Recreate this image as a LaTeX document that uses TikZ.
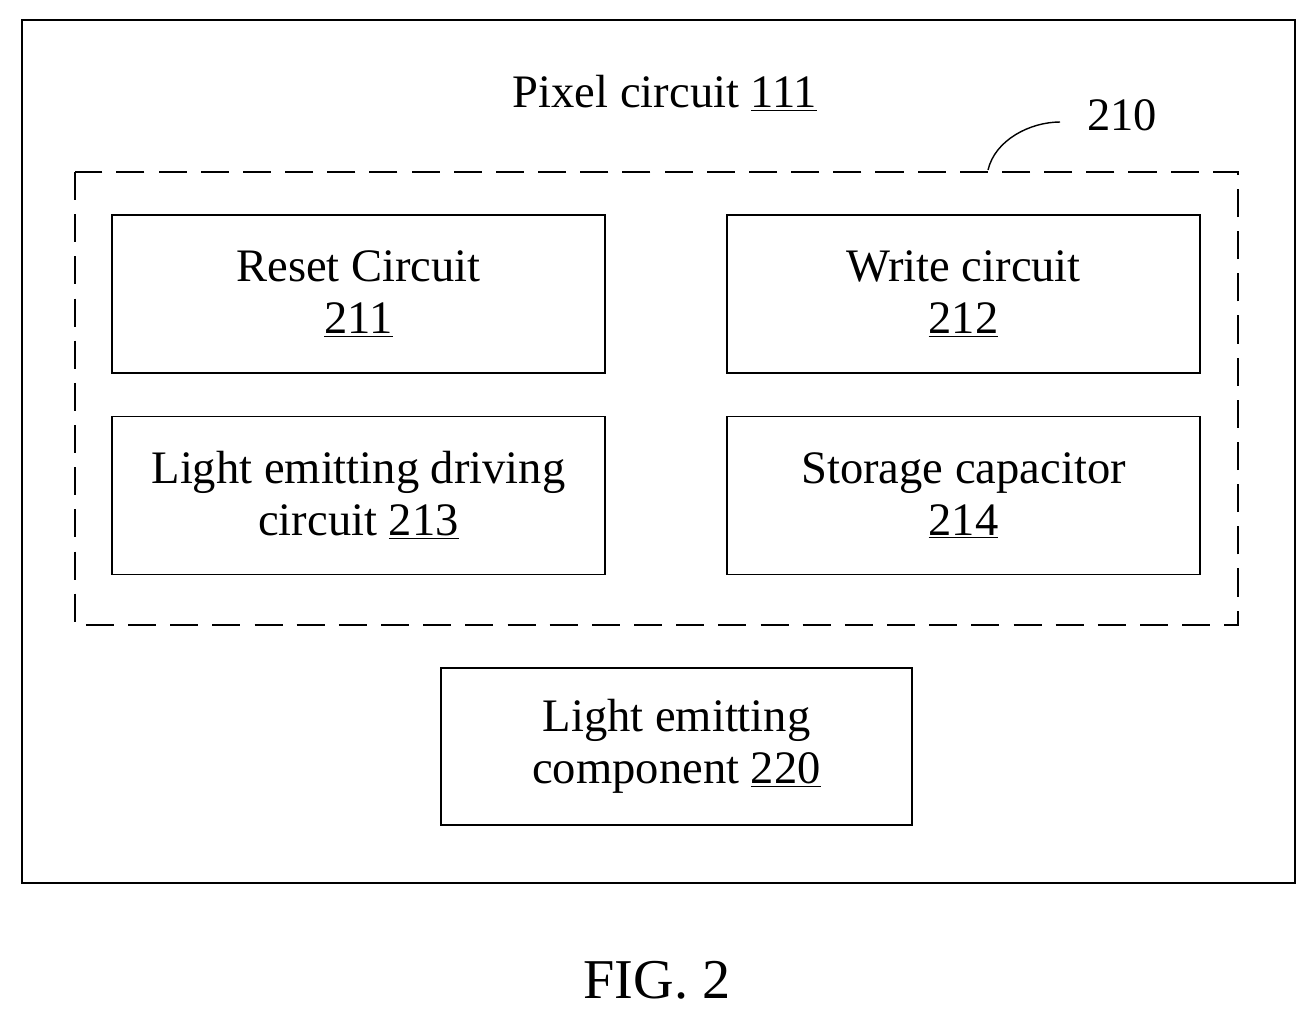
\documentclass[tikz,border=0pt]{standalone}
\usepackage{fontspec}
\setmainfont{Liberation Serif}
\usetikzlibrary{positioning}
\tikzset{
  block/.style={rectangle, draw=black, thick, minimum width=9.86cm, minimum height=3.16cm, align=center, font=\fontsize{26.5}{29.5}\selectfont},
  group/.style={draw=black, thick, dash pattern=on 16pt off 8pt},
  label/.style={font=\fontsize{26.5}{29.5}\selectfont}
}
\begin{document}
\begin{tikzpicture}[x=0.02cm,y=-0.02cm]
\useasboundingbox (0,0) rectangle (1315,1019);
\draw[thick] (22,20) rectangle (1295,883);
\node(title)[label] at (665,93) {Pixel circuit \underline{111}};
\draw[group] (75,172) rectangle (1238,625);
\node(grp)[label] at (1122,115) {210};
\coordinate (tip) at (988,170);
\draw[thick] (tip) .. controls (995,140) and (1030,122) .. (1060,122);
\node(reset)[block] at (358.5,294) {Reset Circuit\\\underline{211}};
\node(write)[block,minimum width=9.46cm] at (963.5,294) {Write circuit\\\underline{212}};
\node(drive)[block] at (358.5,495.5) {Light emitting driving\\circuit \underline{213}};
\node(store)[block,minimum width=9.46cm] at (963.5,495.5) {Storage capacitor\\\underline{214}};
\node(led)[block,minimum width=9.42cm,minimum height=3.14cm] at (676.5,746.5) {Light emitting\\component \underline{220}};
\node(fig)[font=\fontsize{32}{36}\selectfont] at (657,980) {FIG. 2};
\end{tikzpicture}
\end{document}
